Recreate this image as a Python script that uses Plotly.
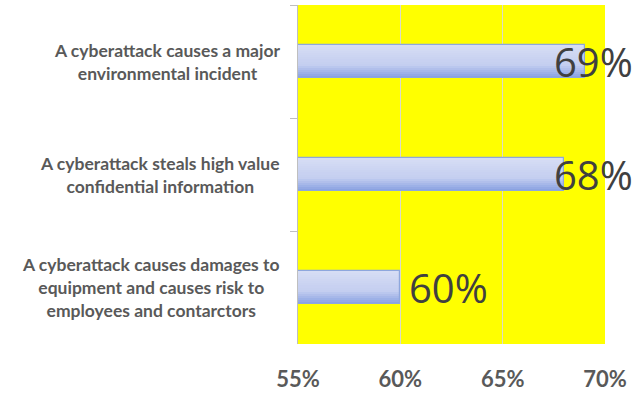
import plotly.graph_objects as go

# Survey results: share of respondents per cyberattack scenario
categories = [
    "A cyberattack causes a major<br>environmental incident",
    "A cyberattack steals high value<br>confidential information",
    "A cyberattack causes damages to<br>equipment and causes risk to<br>employees and contarctors",
]
values = [69, 68, 60]
x_ticks = [55, 60, 65, 70]
x_tick_labels = ["55%", "60%", "65%", "70%"]

W, H = 644, 393
M_L, M_R, M_T, M_B = 298, 39, 5, 49
X_MIN, X_MAX = 55, 70
BAR_W = 0.29

fig = go.Figure()

# vertical gradient inside each bar, built from thin stripes (top light -> bottom darker)
top_rgb = (214, 221, 244)
mid_rgb = (196, 206, 240)
bot_rgb = (138, 162, 226)
N = 16


def lerp(a, b, t):
    return tuple(round(a[i] + (b[i] - a[i]) * t) for i in range(3))


for i in range(N):
    t = i / (N - 1)
    if t < 0.6:
        c = lerp(top_rgb, mid_rgb, t / 0.6)
    else:
        c = lerp(mid_rgb, bot_rgb, (t - 0.6) / 0.4)
    # y axis is reversed, so positive offset runs downward on screen
    fig.add_trace(go.Bar(
        y=categories, x=values, orientation="h",
        width=BAR_W / N + 0.003, offset=-BAR_W / 2 + i * BAR_W / N,
        marker=dict(color="rgb(%d,%d,%d)" % c, line=dict(width=0)),
        hoverinfo="skip", showlegend=False,
    ))

# bar outline
fig.add_trace(go.Bar(
    y=categories, x=values, orientation="h",
    width=BAR_W, offset=-BAR_W / 2,
    marker=dict(color="rgba(0,0,0,0)", line=dict(color="#8ea7dd", width=1.2)),
    showlegend=False,
))

# value labels, kept inside the figure when they would run past the right edge
plot_w = W - M_L - M_R
label_w = 78
for cat, v in zip(categories, values):
    px = M_L + (v - X_MIN) / (X_MAX - X_MIN) * plot_w
    left = min(px + 7, W - 14 - label_w)
    fig.add_annotation(
        x=v, y=cat, xref="x", yref="y", text="%d%%" % v,
        xanchor="left", yanchor="middle", xshift=left - px, showarrow=False,
        font=dict(family="Open Sans", size=40, color="#404040"),
    )

# category labels, centred lines, right-aligned block
for cat in categories:
    fig.add_annotation(
        x=0, y=cat, xref="paper", yref="y", text=cat,
        xanchor="right", yanchor="middle", xshift=-16, align="center",
        showarrow=False,
        font=dict(family="Lato", size=17.5, color="#595959", weight="bold"),
    )

fig.update_layout(
    width=W, height=H,
    margin=dict(l=M_L, r=M_R, t=M_T, b=M_B, pad=0),
    paper_bgcolor="white", plot_bgcolor="#ffff00",
    barmode="overlay", bargap=0,
    xaxis=dict(
        range=[X_MIN, X_MAX], automargin=False,
        tickvals=x_ticks, ticktext=x_tick_labels,
        showgrid=True, gridcolor="#dcdcc8", gridwidth=1,
        zeroline=False, showline=False, ticks="",
        ticklabelstandoff=20,
        tickfont=dict(family="Lato", size=22, color="#595959", weight="bold"),
    ),
    yaxis=dict(
        categoryorder="array", categoryarray=categories, autorange="reversed",
        automargin=False,
        showticklabels=False, showgrid=False, zeroline=False,
        showline=True, linecolor="#bfbfbf", linewidth=1,
        ticks="outside", ticklen=7, tickcolor="#bfbfbf", tickson="boundaries",
    ),
)

fig.write_html("out.html")
